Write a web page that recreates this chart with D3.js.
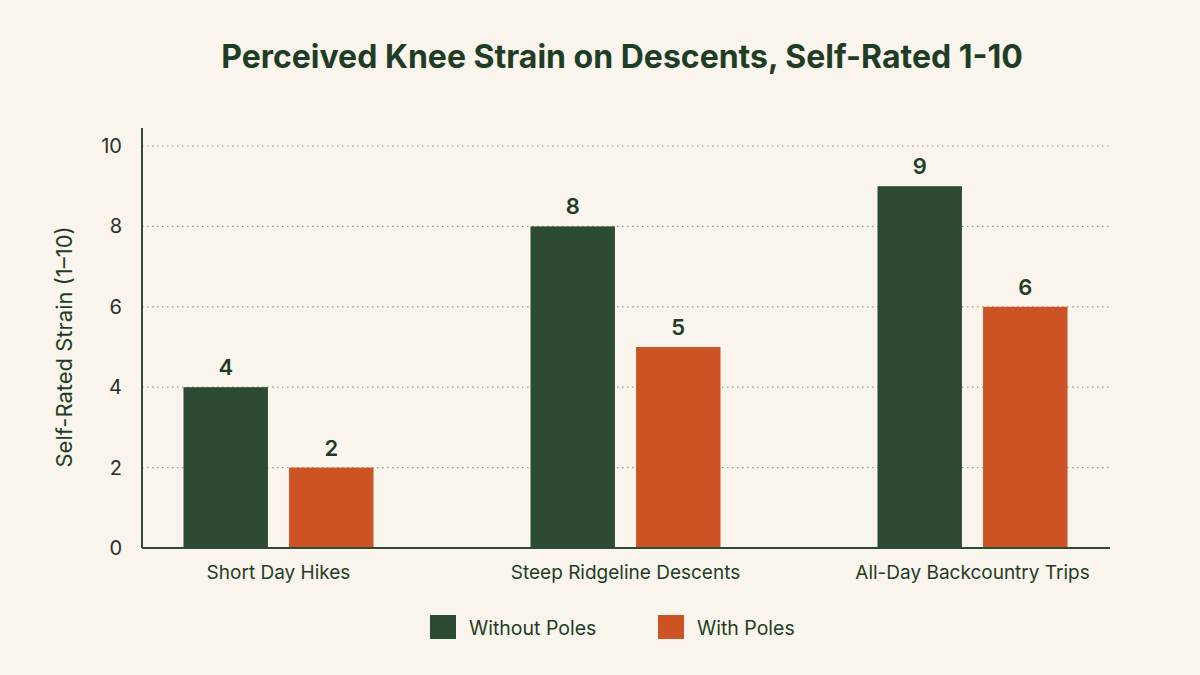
<!DOCTYPE html>
<html>
<head>
<meta charset="utf-8">
<script src="https://cdn.jsdelivr.net/npm/d3@7"></script>
<style>
  body { margin: 0; background: #f9f4ec; }
  svg { display: block; font-family: Inter, "Noto Sans", sans-serif; }
</style>
</head>
<body>
<svg id="chart"></svg>
<script>
const categories = ["Short Day Hikes", "Steep Ridgeline Descents", "All-Day Backcountry Trips"];
const seriesNames = ["Without Poles", "With Poles"];
const withoutPoles = [4, 8, 9];
const withPoles = [2, 5, 6];
const yTicks = [0, 2, 4, 6, 8, 10];

const size = { width: 1200, height: 675 };
const COLOR1 = "#2d4a32";
const COLOR2 = "#cc5424";
const TEXT = "#1f3d25";

const svg = d3.select("#chart").attr("width", size.width).attr("height", size.height);

svg.append("rect").attr("width", size.width).attr("height", size.height).attr("fill", "#f9f4ec");

const plot = { left: 142, right: 1110, top: 146, bottom: 548 };

const y = d3.scaleLinear().domain([0, 10]).range([plot.bottom, plot.top]);
const x0 = d3.scaleBand().domain(categories).range([105, 1146]);
const x1 = d3.scaleBand().domain(seriesNames).range([-95, 95]).paddingInner(0.2);

const rows = categories.map((c, i) => ({
  category: c,
  values: [
    { key: seriesNames[0], value: withoutPoles[i], color: COLOR1 },
    { key: seriesNames[1], value: withPoles[i], color: COLOR2 },
  ],
}));

// title
svg.append("text")
  .text("Perceived Knee Strain on Descents, Self-Rated 1-10")
  .attr("x", 622)
  .attr("y", 68)
  .attr("text-anchor", "middle")
  .attr("font-size", 32)
  .attr("font-weight", 700)
  .attr("fill", TEXT);

// gridlines + tick labels
yTicks.forEach((t) => {
  if (t > 0) {
    svg.append("line")
      .attr("x1", plot.left)
      .attr("x2", plot.right)
      .attr("y1", y(t))
      .attr("y2", y(t))
      .attr("stroke", "#9a9a90")
      .attr("stroke-width", 1.2)
      .attr("stroke-dasharray", "1.5,3.5");
  }
  svg.append("text")
    .text(t)
    .attr("x", 122)
    .attr("y", y(t))
    .attr("dy", "0.35em")
    .attr("text-anchor", "end")
    .attr("font-size", 20)
    .attr("fill", "#2a2e2a");
});

// y axis label
svg.append("text")
  .text("Self-Rated Strain (1–10)")
  .attr("transform", `translate(72, 347) rotate(-90)`)
  .attr("text-anchor", "middle")
  .attr("font-size", 22)
  .attr("fill", TEXT);

// bars
const groups = svg.append("g")
  .selectAll("g")
  .data(rows)
  .enter()
  .append("g")
  .attr("transform", (d) => `translate(${x0(d.category) + x0.bandwidth() / 2}, 0)`);

groups.selectAll("rect")
  .data((d) => d.values)
  .enter()
  .append("rect")
  .attr("x", (d) => x1(d.key))
  .attr("width", x1.bandwidth())
  .attr("y", (d) => y(d.value))
  .attr("height", (d) => plot.bottom - y(d.value))
  .attr("fill", (d) => d.color);

groups.selectAll("text.val")
  .data((d) => d.values)
  .enter()
  .append("text")
  .attr("class", "val")
  .text((d) => d.value)
  .attr("x", (d) => x1(d.key) + x1.bandwidth() / 2)
  .attr("y", (d) => y(d.value) - 12)
  .attr("text-anchor", "middle")
  .attr("font-size", 22)
  .attr("font-weight", 600)
  .attr("fill", TEXT);

// axes lines
svg.append("line")
  .attr("x1", plot.left).attr("x2", plot.left)
  .attr("y1", 128).attr("y2", plot.bottom)
  .attr("stroke", COLOR1).attr("stroke-width", 2);
svg.append("line")
  .attr("x1", plot.left).attr("x2", plot.right)
  .attr("y1", plot.bottom).attr("y2", plot.bottom)
  .attr("stroke", COLOR1).attr("stroke-width", 2);

// category labels
svg.append("g")
  .selectAll("text")
  .data(categories)
  .enter()
  .append("text")
  .text((d) => d)
  .attr("x", (d) => x0(d) + x0.bandwidth() / 2)
  .attr("y", 579)
  .attr("text-anchor", "middle")
  .attr("font-size", 19)
  .attr("fill", TEXT);

// legend
const legend = svg.append("g");
const legendX = [430, 658];
seriesNames.forEach((name, i) => {
  legend.append("rect")
    .attr("x", legendX[i])
    .attr("y", 615)
    .attr("width", 26)
    .attr("height", 24)
    .attr("fill", i === 0 ? COLOR1 : COLOR2);
  legend.append("text")
    .text(name)
    .attr("x", legendX[i] + 39)
    .attr("y", 628)
    .attr("dy", "0.35em")
    .attr("font-size", 19.5)
    .attr("fill", TEXT);
});
</script>
</body>
</html>
